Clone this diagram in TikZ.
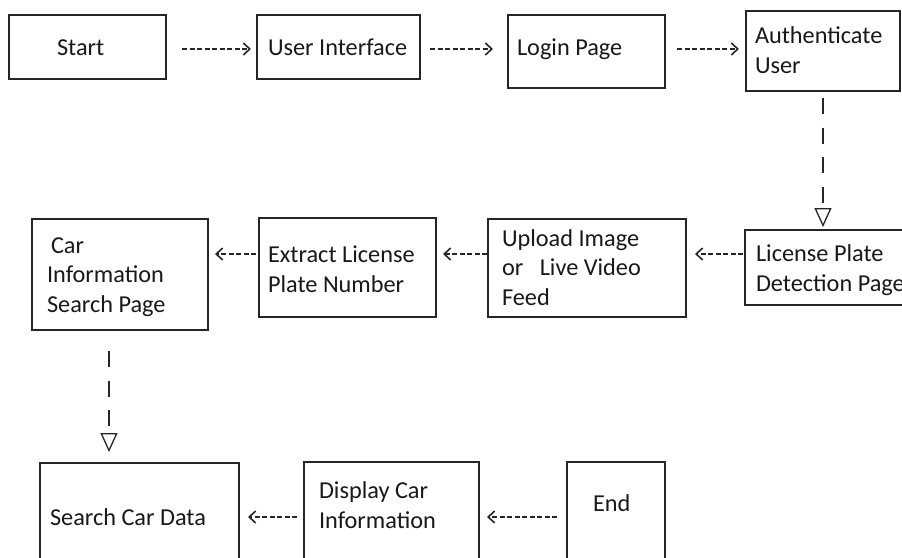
\documentclass[tikz,border=0pt]{standalone}
\usepackage{fontspec}
\setmainfont{Carlito}
\usetikzlibrary{arrows.meta}

\tikzset{
  box/.style={draw=black!85, line width=1.3pt, rectangle, inner sep=0pt, outer sep=0pt, anchor=north west},
  lbl/.style={anchor=base west, inner sep=0pt, outer sep=0pt, align=left, text=black!90,
              font=\fontsize{24.3}{29.3}\selectfont},
  hconn/.style={draw=black!85, line width=1.6pt, dash pattern=on 5pt off 2.5pt,
                -{Straight Barb[length=6.5pt, width=12pt, line width=1.6pt]}},
  vconn/.style={draw=black!85, line width=2pt, dash pattern=on 16pt off 13.5pt,
                -{Triangle[open, length=19pt, width=17pt, line width=1.3pt]}}
}

\begin{document}
\begin{tikzpicture}[x=1pt, y=-1pt]
  \useasboundingbox (0,0) rectangle (902,557);
  \fill[white] (0,0) rectangle (902,557);
  \clip (0,0) rectangle (902,557);

  % boxes (top-left corner, size)
  \node[box, minimum width=157pt, minimum height=64pt]  (start)   at (9,15)    {};
  \node[box, minimum width=163pt, minimum height=64pt]  (ui)      at (257,15)  {};
  \node[box, minimum width=157pt, minimum height=73pt]  (login)   at (508,15)  {};
  \node[box, minimum width=154pt, minimum height=80pt]  (auth)    at (746,11)  {};
  \node[box, minimum width=195pt, minimum height=75pt]  (lpd)     at (745,230) {};
  \node[box, minimum width=198pt, minimum height=98pt]  (upload)  at (488,219) {};
  \node[box, minimum width=177pt, minimum height=99pt]  (extract) at (259,218) {};
  \node[box, minimum width=176pt, minimum height=111pt] (carinfo) at (32,219)  {};
  \node[box, minimum width=199pt, minimum height=140pt] (search)  at (40,463)  {};
  \node[box, minimum width=175pt, minimum height=140pt] (display) at (304,462) {};
  \node[box, minimum width=98pt,  minimum height=140pt] (theend)  at (567,462) {};

  % box texts (placed by the baseline of their last line)
  \node[lbl] (tStart)   at (57,55)   {Start};
  \node[lbl] (tUi)      at (268,55)  {User Interface};
  \node[lbl] (tLogin)   at (517,55)  {Login Page};
  \node[lbl] (tAuth)    at (755,73)  {Authenticate\\User};
  \node[lbl] (tLpd)     at (756,291) {License Plate\\Detection Page};
  \node[lbl] (tUpload)  at (502,305) {Upload Image\\or~~~Live Video\\Feed};
  \node[lbl] (tExtract) at (268,292) {Extract License\\Plate Number};
  \node[lbl] (tCarinfo) at (47,312)  {\hspace*{4pt}Car\\Information\\Search Page};
  \node[lbl] (tSearch)  at (50,525)  {Search Car Data};
  \node[lbl] (tDisplay) at (319,528) {Display Car\\Information};
  \node[lbl] (tEnd)     at (593,511) {End};

  % top row, left to right
  \draw[hconn, shorten <=16pt, shorten >=6pt]
    (start.east |- 0,49) -- (ui.west |- 0,49);
  \draw[hconn, shorten <=10pt, shorten >=15pt]
    (ui.east |- 0,49) -- (login.west |- 0,49);
  \draw[hconn, shorten <=12pt, shorten >=7pt]
    (login.east |- 0,49) -- (auth.west |- 0,49);

  % down to the detection page
  \draw[vconn, shorten <=7pt, shorten >=3pt]
    (auth.south) -- (auth.south |- lpd.north);

  % middle row, right to left
  \draw[hconn, shorten <=2pt, shorten >=9pt]
    (lpd.west |- 0,254) -- (upload.east |- 0,254);
  \draw[hconn, shorten <=1pt, shorten >=7pt]
    (upload.west |- 0,254) -- (extract.east |- 0,254);
  \draw[hconn, shorten <=3pt, shorten >=7pt]
    (extract.west |- 0,254) -- (carinfo.east |- 0,254);

  % down to the search
  \draw[vconn, shorten <=21pt, shorten >=11pt]
    ([xshift=-11pt]carinfo.south) -- ([xshift=-11pt]carinfo.south |- search.north);

  % bottom row, right to left
  \draw[hconn, shorten <=10pt, shorten >=8pt]
    (theend.west |- 0,517) -- (display.east |- 0,517);
  \draw[hconn, shorten <=7pt, shorten >=9pt]
    (display.west |- 0,517) -- (search.east |- 0,517);
\end{tikzpicture}
\end{document}
